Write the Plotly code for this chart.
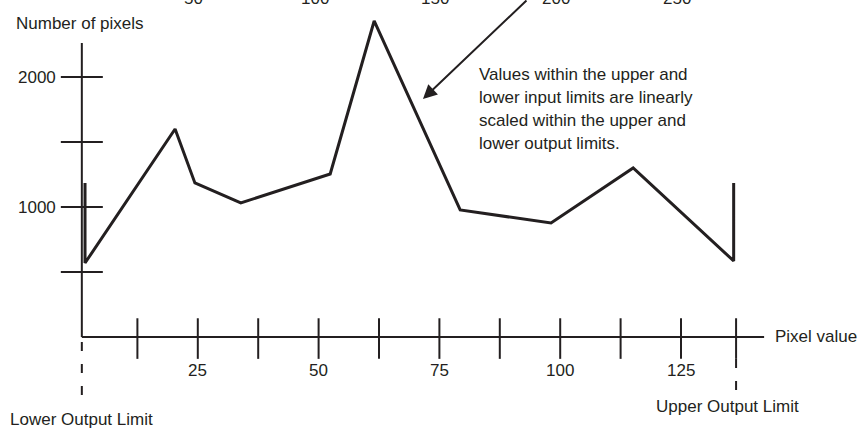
import plotly.graph_objects as go

# Histogram outline: pixel value vs. number of pixels
pixel_value = [1.66, 1.66, 20.3, 24.4, 33.9, 52.4, 61.5, 79.3, 98.1, 115.1, 135.9, 135.9]
pixel_count = [1185, 569, 1600, 1185, 1031, 1254, 2431, 977, 877, 1300, 585, 1185]

# Output (bottom) axis ticks and labels
x_major_ticks = [25, 50, 75, 100, 125]
x_minor_ticks = [12.5, 37.5, 62.5, 87.5, 112.5]
x_tick_labels = ["25", "50", "75", "100", "125"]
# Input-range labels drawn above the matching output ticks
input_tick_labels = ["50", "100", "150", "200", "250"]

# Count axis ticks; only some carry a label
y_ticks = [500, 1000, 1500, 2000]
y_labelled = [1000, 2000]
y_tick_labels = ["1000", "2000"]

lower_limit = 1.0
upper_limit = 136.4
x_axis_end = 142.2
y_axis_top = 2262

note_lines = [
    "Values within the upper and",
    "lower input limits are linearly",
    "scaled within the upper and",
    "lower output limits.",
]

INK = "#231f20"
FONT = dict(family="Liberation Sans, Arial, sans-serif", size=17, color=INK)

fig = go.Figure()

# axes
fig.add_trace(go.Scatter(x=[lower_limit, x_axis_end], y=[0, 0], mode="lines",
                         line=dict(color=INK, width=2), hoverinfo="skip"))
fig.add_trace(go.Scatter(x=[lower_limit, lower_limit], y=[0, y_axis_top], mode="lines",
                         line=dict(color=INK, width=2), hoverinfo="skip"))

# tick marks crossing the axes
xt = x_minor_ticks + x_major_ticks + [upper_limit]
fig.add_trace(go.Scatter(x=xt, y=[-12] * len(xt), mode="markers",
                         marker=dict(symbol="line-ns", size=29, line=dict(color=INK, width=2)),
                         hoverinfo="skip"))
fig.add_trace(go.Scatter(x=[lower_limit] * len(y_ticks), y=y_ticks, mode="markers",
                         marker=dict(symbol="line-ew", size=30, line=dict(color=INK, width=2)),
                         hoverinfo="skip"))

# dashed output-limit markers below the axis
fig.add_trace(go.Scatter(x=[lower_limit, lower_limit], y=[-38, -446], mode="lines",
                         line=dict(color=INK, width=2, dash="9px,13px"), hoverinfo="skip"))
fig.add_trace(go.Scatter(x=[upper_limit, upper_limit], y=[-169, -423], mode="lines",
                         line=dict(color=INK, width=2, dash="9px,13px"), hoverinfo="skip"))

# histogram outline
fig.add_trace(go.Scatter(x=pixel_value, y=pixel_count, mode="lines",
                         line=dict(color=INK, width=3), hoverinfo="skip"))

ann = []
for v, t in zip(x_major_ticks, x_tick_labels):
    ann.append(dict(x=v, y=-254, text=t, xanchor="center", yanchor="middle"))
for v, t in zip(x_major_ticks, input_tick_labels):
    ann.append(dict(x=v, y=2523, text=t, xanchor="center", yanchor="bottom", xshift=-4))
for v, t in zip(y_labelled, y_tick_labels):
    ann.append(dict(x=-4.1, y=v, text=t, xanchor="right", yanchor="middle"))

ann.append(dict(x=-12.8, y=2415, text="Number of pixels", xanchor="left", yanchor="middle"))
ann.append(dict(x=144.2, y=4, text="Pixel value", xanchor="left", yanchor="middle"))
ann.append(dict(x=lower_limit, y=-638, text="Lower Output Limit", xanchor="center", yanchor="middle"))
ann.append(dict(x=134.7, y=-538, text="Upper Output Limit", xanchor="center", yanchor="middle"))

for yv, line in zip([2023, 1842, 1665, 1492], note_lines):
    ann.append(dict(x=83.0, y=yv, text=line, xanchor="left", yanchor="middle"))

# arrow pointing at the scaled region
ann.append(dict(x=71.6, y=1831, text="", showarrow=True, axref="pixel", ayref="pixel",
                ax=104, ay=-129, arrowhead=2, arrowsize=1.4, arrowwidth=2, arrowcolor=INK))

for a in ann:
    a.setdefault("showarrow", False)
    a["xref"] = "x"
    a["yref"] = "y"
    a["font"] = FONT
    a["borderpad"] = 0

fig.update_layout(
    width=862, height=431,
    margin=dict(l=0, r=0, t=0, b=0),
    paper_bgcolor="white", plot_bgcolor="white",
    showlegend=False,
    xaxis=dict(range=[-15.935, 162.459], visible=False),
    yaxis=dict(range=[-723.1, 2592.3], visible=False),
    annotations=ann,
)

fig.write_html("out.html")
